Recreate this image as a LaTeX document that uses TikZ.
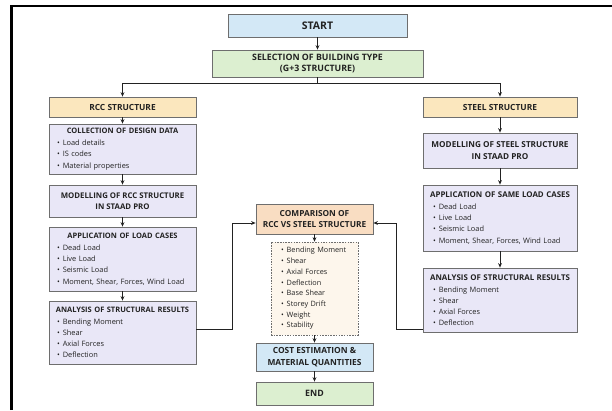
\documentclass[tikz,border=0pt]{standalone}
\usepackage{fontspec}
\setmainfont{Open Sans}
\usetikzlibrary{arrows.meta}
\definecolor{sky}{HTML}{D3E8F6}
\definecolor{leaf}{HTML}{DCEFD0}
\definecolor{sand}{HTML}{FBE7BE}
\definecolor{lav}{HTML}{E9E7F7}
\definecolor{peach}{HTML}{F9DDC2}
\definecolor{cream}{HTML}{FDF6EC}
\definecolor{edge}{HTML}{6E6E6E}
\definecolor{ink}{HTML}{222222}
\tikzset{
  box/.style={draw=edge, line width=0.7pt, inner sep=0pt, align=center, text=ink},
  fs/.style={font=\fontsize{#1}{11.5}\selectfont\bfseries},
  listbox/.style={draw=edge, line width=0.7pt, inner ysep=0pt, inner xsep=8pt, text=ink,
    fill=lav, font=\fontsize{7.4}{11.2}\selectfont},
  conn/.style={draw=ink, line width=0.8pt},
  arr/.style={conn, -{Stealth[length=4.5pt,width=3.8pt]}},
}
\newcommand{\ttl}[2]{{\fontsize{#1}{11.5}\selectfont\bfseries\hbox to\hsize{\hss #2\hss}\par}\vspace{0.8pt}\raggedright}
\newcommand{\itm}{\textbullet\hspace{3pt}}
\begin{document}
\begin{tikzpicture}[x=1pt,y=-1pt]
\useasboundingbox (0,0) rectangle (612,410);
\fill[white] (0,0) rectangle (612,410);
% outer frame
\draw[black, line width=2.2pt] (11.5,410) -- (11.5,5.8) -- (612,5.8);

% centre column
\node[box, fs=10.5, fill=sky, minimum width=179pt, minimum height=23pt] (start) at (317.5,25.5) {START};
\node[box, fs=8.8, fill=leaf, minimum width=211pt, minimum height=27pt] (sel) at (317.5,63.5) {SELECTION OF BUILDING TYPE\\(G+3 STRUCTURE)};

% branches
\node[box, fs=8.4, fill=sand, minimum width=147pt, minimum height=20pt] (rcc) at (122.5,107) {RCC STRUCTURE};
\node[box, fs=8.4, fill=sand, minimum width=154pt, minimum height=20pt] (steel) at (500,107) {STEEL STRUCTURE};

% RCC column
\node[listbox, text width=131pt, minimum height=50pt] (coll) at (122.5,149)
 {\ttl{7.5}{COLLECTION OF DESIGN DATA}\itm Load details\\\itm IS codes\\\itm Material properties};
\node[box, fs=7.8, fill=lav, minimum width=147pt, minimum height=32pt] (modr) at (122.5,201)
 {MODELLING OF RCC STRUCTURE\\IN STAAD PRO};
\node[listbox, text width=131pt, minimum height=64pt] (appr) at (122.5,259)
 {\ttl{7.5}{APPLICATION OF LOAD CASES}\itm Dead Load\\\itm Live Load\\\itm Seismic Load\\\itm Moment, Shear, Forces, Wind Load};
\node[listbox, text width=131pt, minimum height=63pt] (anr) at (122.5,332.5)
 {\ttl{7.5}{ANALYSIS OF STRUCTURAL RESULTS}\itm Bending Moment\\\itm Shear\\\itm Axial Forces\\\itm Deflection};

% Steel column
\node[box, fs=8.2, fill=lav, minimum width=154pt, minimum height=35pt] (mods) at (500,150.5)
 {MODELLING OF STEEL STRUCTURE\\IN STAAD PRO};
\node[listbox, inner xsep=10pt, text width=134pt, minimum height=66pt] (apps) at (500,218)
 {\ttl{7.9}{APPLICATION OF SAME LOAD CASES}\itm Dead Load\\\itm Live Load\\\itm Seismic Load\\\itm Moment, Shear, Forces, Wind Load};
\node[listbox, inner xsep=10pt, text width=134pt, minimum height=64pt] (ans) at (500,300)
 {\ttl{7.9}{ANALYSIS OF STRUCTURAL RESULTS}\itm Bending Moment\\\itm Shear\\\itm Axial Forces\\\itm Deflection};

% comparison column
\node[box, fs=8.3, fill=peach, minimum width=117pt, minimum height=30pt] (comp) at (314.5,219)
 {COMPARISON OF\\RCC VS STEEL STRUCTURE};
\node[listbox, fill=cream, dashed, line width=0.6pt, dash pattern=on 1.5pt off 1.2pt, inner xsep=10pt, text width=67pt, minimum height=93pt,
  font=\fontsize{7.3}{10.7}\selectfont] (cmp) at (314.5,288.5)
 {\raggedright\itm Bending Moment\\\itm Shear\\\itm Axial Forces\\\itm Deflection\\\itm Base Shear\\\itm Storey Drift\\\itm Weight\\\itm Stability};
\node[box, fs=8.4, fill=sky, minimum width=117pt, minimum height=28pt] (cost) at (314.5,357)
 {COST ESTIMATION \&\\MATERIAL QUANTITIES};
\node[box, fs=8.8, fill=leaf, minimum width=117pt, minimum height=23pt] (end) at (314.5,393.5) {END};

% connectors
\draw[arr] (start) -- (sel);
\draw[conn] (sel.south) -- ++(0,6) coordinate (fork);
\draw[arr] (fork) -| (rcc.north);
\draw[arr] (fork) -| (steel.north);
\draw[arr] (rcc) -- (coll);
\draw[arr] (coll) -- (modr);
\draw[arr] (modr) -- (appr);
\draw[arr] (appr) -- (anr);
\draw[arr] (steel) -- (mods);
\draw[arr] (mods) -- (apps);
\draw[arr] (apps) -- (ans);
\draw[arr] ([yshift=3pt]anr.east) -- ++(36,0) |- ([yshift=-4pt]comp.west);
\draw[arr] ([yshift=3pt]ans.south west) -- ++(-26,0) |- ([yshift=-4pt]comp.east);
\draw[arr] (comp) -- (cmp);
\draw[arr] (cmp) -- (cost);
\draw[arr] (cost) -- (end);
\end{tikzpicture}
\end{document}
